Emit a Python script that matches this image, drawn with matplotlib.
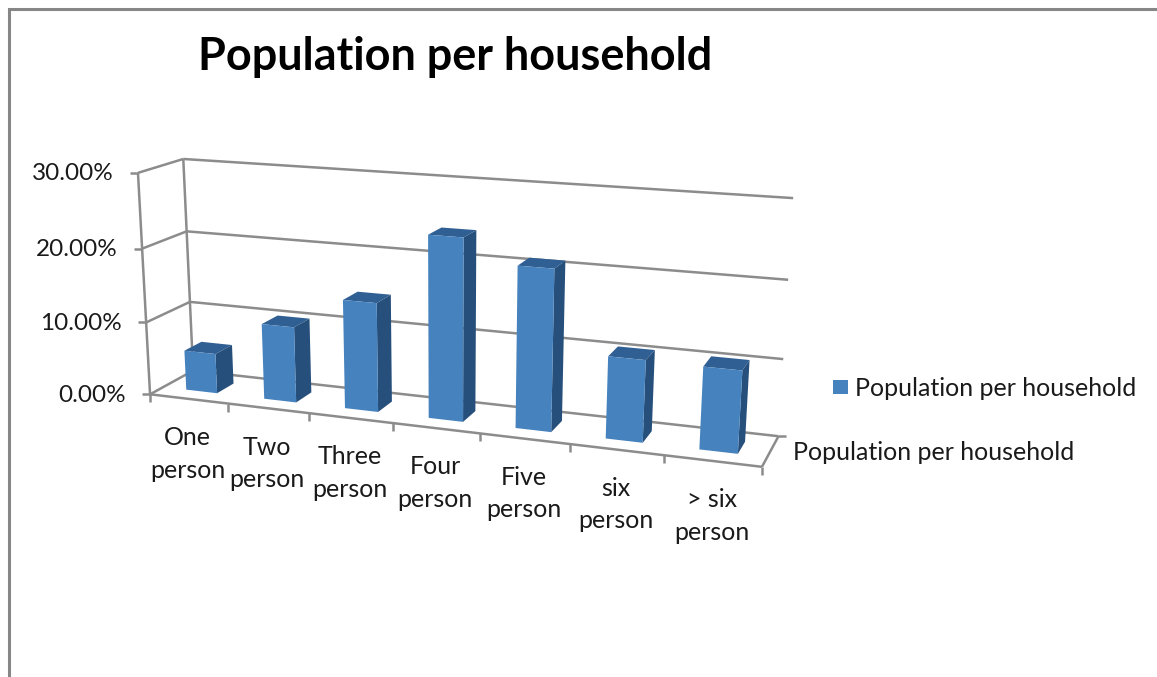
import matplotlib
matplotlib.use("Agg")
import matplotlib.pyplot as plt
from matplotlib.patches import Polygon, Rectangle
import numpy as np

title = "Population per household"
categories = ["One\nperson", "Two\nperson", "Three\nperson", "Four\nperson",
              "Five\nperson", "six\nperson", "> six\nperson"]
values = [5.5, 10.3, 14.6, 24.0, 21.0, 10.6, 10.5]
y_ticks = [0, 10, 20, 30]
y_labels = ["0.00%", "10.00%", "20.00%", "30.00%"]

FRONT = "#4682bd"
TOP = "#305f94"
SIDE = "#264f7c"
GRID = "#8c8c8c"
TEXT = "#1a1a1a"

# (category, depth, percent) -> where that corner sits in the picture
anchors_3d = np.array([
    (0, 0, 0), (0, 0, 30), (0, 1, 30), (0, 1, 20), (0, 1, 10), (0, 1, 0),
    (7, 1, 30), (7, 1, 20), (7, 1, 10), (7, 1, 0), (7, 0, 0),
], dtype=float)
anchors_px = np.array([
    (150, 394), (138, 173), (183, 159), (187, 231), (190, 302), (193, 371),
    (793, 198), (788, 280), (784, 359), (778, 436), (762, 467),
], dtype=float)


def fit_camera(pts, px):
    rows = []
    for (x, y, z), (u, v) in zip(pts, px):
        rows.append([x, y, z, 1, 0, 0, 0, 0, -u * x, -u * y, -u * z, -u])
        rows.append([0, 0, 0, 0, x, y, z, 1, -v * x, -v * y, -v * z, -v])
    return np.linalg.svd(np.array(rows))[2][-1].reshape(3, 4)


camera = fit_camera(anchors_3d, anchors_px)


def project(x, y, z):
    u, v, w = camera @ np.array([x, y, z, 1.0])
    return u / w, v / w


fig = plt.figure(figsize=(11.57, 6.77), dpi=100)
ax = fig.add_axes([0, 0, 1, 1])
ax.set_xlim(0, 1157)
ax.set_ylim(677, 0)
ax.axis("off")
plt.rcParams["font.family"] = ["Lato", "DejaVu Sans"]


def line(a, b, lw=1.8):
    ax.plot([a[0], b[0]], [a[1], b[1]], color=GRID, lw=lw, solid_capstyle="butt", zorder=2)


# chart frame
ax.plot([9, 9, 1157], [677, 9, 9], color="#868686", lw=2.2, solid_joinstyle="miter")

n = len(categories)

# walls and gridlines
for t in y_ticks:
    line(project(0, 0, t), project(0, 1, t))
    line(project(0, 1, t), project(n, 1, t))
    u, v = project(0, 0, t)
    line((u - 8, v), (u, v))
    ax.text(u - 24, v + 1, y_labels[y_ticks.index(t)], ha="right", va="center",
            fontsize=17.5, color=TEXT)
line(project(0, 0, 0), project(0, 0, 30))
line(project(0, 1, 0), project(0, 1, 30))
line(project(0, 0, 0), project(n, 0, 0))
line(project(n, 0, 0), project(n, 1, 0))
ur = project(n, 1, 0)
line(ur, (ur[0] + 8, ur[1]))

# category ticks and labels
for i in range(n + 1):
    u, v = project(i, 0, 0)
    line((u, v), (u, v + 8))
for i, label in enumerate(categories):
    u, v = project(i + 0.5, 0, 0)
    ax.text(u - 1, v + 55, label, ha="center", va="center", fontsize=18,
            color=TEXT, linespacing=1.5)

# bars
half = 0.2
y0, y1 = 0.3, 0.7
for i, val in enumerate(values):
    c = i + 0.5
    l, r = c - half, c + half
    top = [project(l, y0, val), project(r, y0, val), project(r, y1, val), project(l, y1, val)]
    side = [project(r, y0, 0), project(r, y1, 0), project(r, y1, val), project(r, y0, val)]
    front = [project(l, y0, 0), project(r, y0, 0), project(r, y0, val), project(l, y0, val)]
    ax.add_patch(Polygon(top, fc=TOP, ec="none", zorder=3))
    ax.add_patch(Polygon(side, fc=SIDE, ec="none", zorder=3))
    ax.add_patch(Polygon(front, fc=FRONT, ec="none", zorder=4))

ax.text(455, 57, title, ha="center", va="center", fontsize=32.4, fontweight="bold", color="black")

# depth axis label and legend
ax.text(793, 453, title, ha="left", va="center", fontsize=18, color=TEXT)
ax.add_patch(Rectangle((833, 380), 15, 14, fc=FRONT, ec="none"))
ax.text(855, 388, title, ha="left", va="center", fontsize=18, color=TEXT)

fig.savefig("out.png", dpi=100)
